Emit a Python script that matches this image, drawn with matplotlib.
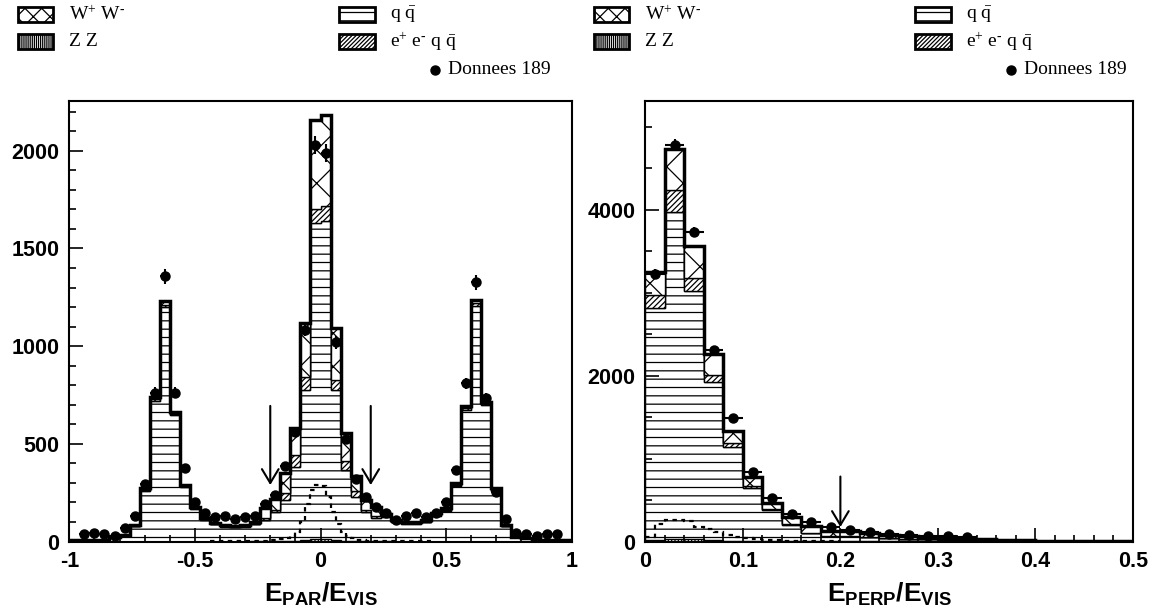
import numpy as np
import matplotlib
matplotlib.use('Agg')
import matplotlib.pyplot as plt
from matplotlib.patches import Rectangle
from matplotlib.lines import Line2D
from matplotlib.ticker import MultipleLocator, FuncFormatter

plt.rcParams['font.family'] = 'Liberation Sans'
plt.rcParams['axes.unicode_minus'] = False
plt.rcParams['mathtext.fontset'] = 'custom'
plt.rcParams['mathtext.rm'] = 'Liberation Serif'
plt.rcParams['mathtext.it'] = 'Liberation Serif:italic'
plt.rcParams['mathtext.bf'] = 'Liberation Sans:bold'
plt.rcParams['hatch.linewidth'] = 0.9

# ---- E_PAR / E_VIS : 50 bins from -1 to 1 ----
par_qq = [7, 7, 7, 7, 22, 31, 77, 258, 720, 1200,
          648, 278, 168, 110, 89, 75, 72, 75, 88, 112,
          150, 213, 383, 776, 1630, 1639, 776, 367, 230, 150,
          120, 125, 98, 91, 91, 99, 132, 158, 285, 675,
          1208, 698, 260, 78, 22, 18, 7, 7, 7, 7]
par_ee = [0, 0, 0, 0, 1, 1, 2, 5, 8, 12,
          7, 4, 3, 3, 2, 2, 2, 2, 3, 8,
          13, 34, 60, 68, 72, 80, 51, 43, 26, 12,
          8, 4, 3, 3, 3, 3, 4, 4, 5, 8,
          12, 8, 5, 2, 1, 1, 0, 0, 0, 0]
par_ww = [1, 1, 1, 1, 2, 3, 5, 9, 11, 17,
          10, 7, 7, 6, 6, 6, 6, 6, 8, 50,
          55, 102, 137, 277, 457, 462, 268, 145, 77, 51,
          50, 11, 9, 7, 7, 8, 8, 8, 8, 11,
          17, 10, 7, 4, 2, 1, 1, 1, 1, 1]
par_zz = [0, 0, 0, 0, 0, 0, 0, 0, 0, 0,
          0, 0, 0, 0, 0, 0, 0, 0, 1, 1,
          2, 2, 3, 6, 15, 15, 6, 3, 2, 2,
          1, 1, 0, 0, 0, 0, 0, 0, 0, 0,
          0, 0, 0, 0, 0, 0, 0, 0, 0, 0]
par_data = [np.nan, 38, 45, 38, 30, 67, 131, 295, 762, 1357,
            762, 375, 204, 145, 127, 132, 113, 127, 132, 192,
            238, 388, 563, 1083, 2031, 1989, 1019, 525, 320, 230,
            178, 148, 110, 131, 148, 124, 144, 204, 366, 810,
            1326, 733, 255, 114, 45, 40, 30, 38, 40, np.nan]
# dotted curve, 0.02 bins from -0.44 to 0.44
par_sig = [1, 1, 2, 2, 2, 2, 3, 3, 3, 4, 4, 5, 6, 8, 12, 18, 28, 50, 100, 190,
           265, 290, 285, 230, 150, 90, 50, 28, 16, 10, 7, 5, 4, 4, 3, 3, 3, 2,
           2, 2, 2, 1, 1, 1]

# ---- E_PERP / E_VIS : 25 bins from 0 to 0.5 ----
perp_qq = [2812, 3977, 3025, 1928, 1145, 643, 375, 200, 100, 65,
           62, 52, 42, 33, 26, 22, 16, 13, 10, 8, 6, 5, 4, 3, 2]
perp_ee = [161, 261, 149, 80, 45, 30, 20, 12, 8, 5,
           4, 3, 3, 2, 2, 1, 1, 1, 1, 0, 0, 0, 0, 0, 0]
perp_ww = [270, 490, 393, 254, 144, 110, 75, 88, 81, 51,
           55, 46, 35, 29, 24, 21, 15, 12, 9, 7, 6, 4, 3, 3, 2]
perp_zz = [15, 25, 25, 15, 10, 7, 5, 4, 3, 2,
           2, 1, 1, 1, 1, 0, 0, 0, 0, 0, 0, 0, 0, 0, 0]
perp_data = [3226, 4780, 3736, 2310, 1487, 836, 530, 330, 241, 169,
             133, 110, 95, 84, 64, 64, 56, np.nan, np.nan, np.nan,
             np.nan, np.nan, np.nan, np.nan, np.nan]
# dotted curve, 0.01 bins from 0 to 0.2
perp_sig = [60, 210, 265, 255, 248, 170, 145, 115, 80, 58,
            40, 30, 22, 14, 10, 7, 5, 4, 3, 2]

par_edges = np.linspace(-1, 1, 51)
perp_edges = np.linspace(0, 0.5, 26)
par_sig_edges = np.linspace(-0.44, 0.44, 45)
perp_sig_edges = np.linspace(0, 0.2, 21)

W, H = 1156, 615
fig = plt.figure(figsize=(W / 100, H / 100), dpi=100)

def fx(x):
    return x / W

def fy(y):
    return 1 - y / H

axL = fig.add_axes([fx(69.3), fy(541.5), (571.7 - 69.3) / W, (541.5 - 101) / H])
axR = fig.add_axes([fx(645.3), fy(541.5), (1133 - 645.3) / W, (541.5 - 101) / H])


def draw_panel(ax, edges, qq, ee, ww, zz, data, sig_edges, sig):
    qq = np.array(qq, float)
    b2 = qq + np.array(ee, float)
    b3 = b2 + np.array(ww, float)
    ax.stairs(qq, edges, baseline=0, fill=True, facecolor='white',
              edgecolor='black', hatch='--', lw=1.0)
    ax.stairs(b2, edges, baseline=qq, fill=True, facecolor='white',
              edgecolor='black', hatch='//////', lw=1.0)
    ax.stairs(b3, edges, baseline=b2, fill=True, facecolor='white',
              edgecolor='black', hatch='x', lw=1.0)
    ax.stairs(zz, edges, baseline=0, fill=True, facecolor='white',
              edgecolor='black', hatch='|||||', lw=1.0)
    ax.stairs(b3, edges, baseline=None, color='black', lw=2.5)
    ax.stairs(sig, sig_edges, baseline=None, color='black', lw=1.6,
              linestyle=(0, (2, 2)))
    centers = 0.5 * (edges[1:] + edges[:-1])
    half = 0.5 * np.diff(edges)
    data = np.array(data, float)
    ax.errorbar(centers, data, yerr=np.sqrt(data), xerr=half, fmt='o',
                ms=6.5, color='black', elinewidth=1.5, capsize=0, zorder=5)


draw_panel(axL, par_edges, par_qq, par_ee, par_ww, par_zz, par_data,
           par_sig_edges, par_sig)
draw_panel(axR, perp_edges, perp_qq, perp_ee, perp_ww, perp_zz, perp_data,
           perp_sig_edges, perp_sig)

# cut arrows
arrow = dict(arrowstyle='->, head_length=0.5, head_width=0.3', lw=1.5,
             color='black', mutation_scale=20, shrinkA=0, shrinkB=0)
for xc in (-0.2, 0.2):
    axL.annotate('', xy=(xc, 289), xytext=(xc, 694), arrowprops=arrow)
axR.annotate('', xy=(0.2, 174), xytext=(0.2, 783), arrowprops=arrow)

fmt = FuncFormatter(lambda v, p: '%g' % v)
axL.set_xlim(-1, 1)
axL.set_ylim(0, 2255)
axL.xaxis.set_major_locator(MultipleLocator(0.5))
axL.xaxis.set_minor_locator(MultipleLocator(0.1))
axL.yaxis.set_major_locator(MultipleLocator(500))
axL.yaxis.set_minor_locator(MultipleLocator(100))

axR.set_xlim(0, 0.5)
axR.set_ylim(0, 5310)
axR.xaxis.set_major_locator(MultipleLocator(0.1))
axR.xaxis.set_minor_locator(MultipleLocator(0.02))
axR.yaxis.set_major_locator(MultipleLocator(2000))
axR.yaxis.set_minor_locator(MultipleLocator(500))

for ax in (axL, axR):
    ax.xaxis.set_major_formatter(fmt)
    ax.yaxis.set_major_formatter(fmt)
    ax.tick_params(which='both', direction='in', top=False, right=False,
                   labelsize=15.5, width=1.2)
    ax.tick_params(which='major', length=10, pad=7)
    ax.tick_params(which='minor', length=5)
    for s in ax.spines.values():
        s.set_linewidth(1.5)

axL.set_xlabel(r'$\mathbf{E_{PAR}/E_{VIS}}$', fontsize=19, labelpad=6)
axR.set_xlabel(r'$\mathbf{E_{PERP}/E_{VIS}}$', fontsize=19, labelpad=6)

# legends above each panel
def legend_box(x, y, w, h, hatch):
    fig.add_artist(Rectangle((fx(x), fy(y + h)), w / W, h / H,
                             transform=fig.transFigure, facecolor='white',
                             edgecolor='black', hatch=hatch, lw=2))

def legend_text(x, y, s):
    fig.text(fx(x), fy(y), s, fontsize=14, fontfamily='Liberation Serif',
             va='center', ha='left')

for off in (0, 576):
    legend_box(18 + off, 7, 35, 15, 'xx')
    legend_text(69 + off, 14.5, r'W$^{+}$ W$^{\text{-}}$')
    legend_box(18 + off, 34, 35, 15, '||||||||')
    legend_text(69 + off, 41.5, 'Z Z')
    legend_box(339 + off, 7, 36, 15, '--')
    legend_text(390 + off, 14.5, r'q $\bar{\mathrm{q}}$')
    legend_box(339 + off, 34, 36, 15, '////////')
    legend_text(390 + off, 41.5, r'e$^{+}$ e$^{\text{-}}$ q $\bar{\mathrm{q}}$')
    fig.add_artist(Line2D([fx(434.6 + off)], [fy(70)], marker='o', ms=6.5,
                          color='black', transform=fig.transFigure))
    legend_text(448 + off, 70, 'Donnees 189')

# bold tick labels
fig.canvas.draw()
for ax in (axL, axR):
    for lab in ax.get_xticklabels() + ax.get_yticklabels():
        lab.set_fontweight('bold')

fig.savefig('out.png', dpi=100)
